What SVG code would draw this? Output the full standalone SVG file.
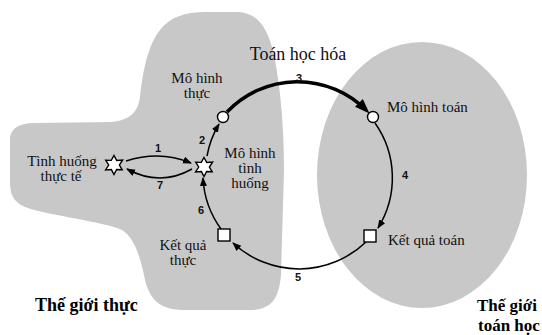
<svg xmlns="http://www.w3.org/2000/svg" width="542" height="335" viewBox="0 0 542 335">
<style>
.region{fill:#c8c8c8;stroke:none}
.lbl{font-family:"Liberation Serif","Times New Roman",serif;font-size:15px;fill:#111}
.ttl{font-family:"Liberation Serif","Times New Roman",serif;font-size:18px;font-weight:bold;fill:#000}
.num{font-family:"Liberation Sans",Arial,sans-serif;font-size:11px;font-weight:bold;fill:#111;text-anchor:middle}
.thin{fill:none;stroke:#000;stroke-width:1.5;marker-end:url(#ah)}
.thick{fill:none;stroke:#000;stroke-width:3.5;marker-end:url(#ahb)}
.nd{fill:#fff;stroke:#000;stroke-width:1.4}
</style>
<defs>
<marker id="ah" markerUnits="userSpaceOnUse" markerWidth="10" markerHeight="8" refX="8" refY="3.5" orient="auto" viewBox="0 0 10 8">
<path d="M0,0 L9,3.5 L0,7 z" fill="#000"/>
</marker>
<marker id="ahb" markerUnits="userSpaceOnUse" markerWidth="16" markerHeight="12" refX="10" refY="5.5" orient="auto" viewBox="0 0 16 12">
<path d="M0,0 L15,5.5 L0,11 z" fill="#000"/>
</marker>
<polygon id="star" points="0,-9.5 2.7,-4.6 8.6,-5 5.4,0 8.2,4.8 2.6,4.5 0,9.5 -2.6,4.6 -8.4,5 -5.3,0 -8.3,-4.8 -2.7,-4.6"/>
</defs>
<g id="regions">
<path id="real-world" class="region" d="M140,97 C143,70 148,45 160,30 C170,17 185,12 205,12 L238,12 C258,13 268,28 274,55 C281,90 284,130 284,170 L281,275 C279,298 272,309 252,310 L185,310 C162,310 152,302 146,284 C141,262 137,240 122,230 C102,221 50,216 25,207 C12,201 10,193 10,180 L10,140 C10,128 20,123 35,123 L112,122 C130,120 138,112 140,97 Z"/>
<ellipse id="math-world" class="region" cx="422" cy="175" rx="105" ry="133"/>
</g>
<g id="connectors">
<path id="c1" class="thin" d="M126,161 Q160,150 191,163"/>
<path id="c7" class="thin" d="M192,169 Q160,187 127,169"/>
<path id="c2" class="thin" d="M207,156 A95,95 0 0,1 219,124"/>
<path id="c3" class="thick" d="M227,112 A97,97 0 0,1 366,110"/>
<path id="c4" class="thin" d="M375,123 A95,95 0 0,1 378,228"/>
<path id="c5" class="thin" d="M366,242 A97,97 0 0,1 233,243"/>
<path id="c6" class="thin" d="M221,229 A95,95 0 0,1 203,178"/>
<text class="num" x="158" y="152">1</text>
<text class="num" x="202" y="144">2</text>
<text class="num" x="299" y="82">3</text>
<text class="num" x="405" y="179">4</text>
<text class="num" x="298" y="281">5</text>
<text class="num" x="201" y="214">6</text>
<text class="num" x="160" y="189">7</text>
</g>
<g id="title-mathematization">
<text class="lbl" style="font-size:18px" x="298" y="60" text-anchor="middle">Toán học hóa</text>
</g>
<g id="node-real-situation">
<use href="#star" class="nd" x="114" y="165"/>
<text class="lbl" x="62" y="166" text-anchor="middle">Tình huống</text>
<text class="lbl" x="61" y="181" text-anchor="middle">thực tế</text>
</g>
<g id="node-situation-model">
<use href="#star" class="nd" x="204" y="167"/>
<text class="lbl" x="250" y="158" text-anchor="middle">Mô hình</text>
<text class="lbl" x="250" y="173" text-anchor="middle">tình</text>
<text class="lbl" x="250" y="188" text-anchor="middle">huống</text>
</g>
<g id="node-real-model">
<circle class="nd" cx="223" cy="117" r="5.5"/>
<text class="lbl" x="197" y="83" text-anchor="middle">Mô hình</text>
<text class="lbl" x="197" y="98" text-anchor="middle">thực</text>
</g>
<g id="node-math-model">
<circle class="nd" cx="373" cy="117" r="5.5"/>
<text class="lbl" x="387" y="112">Mô hình toán</text>
</g>
<g id="node-math-result">
<rect class="nd" x="364" y="230" width="12" height="12"/>
<text class="lbl" x="388" y="245">Kết quả toán</text>
</g>
<g id="node-real-result">
<rect class="nd" x="218" y="229" width="12" height="12"/>
<text class="lbl" x="183" y="250" text-anchor="middle">Kết quả</text>
<text class="lbl" x="183" y="265" text-anchor="middle">thực</text>
</g>
<g id="labels-worlds">
<text class="ttl" x="35" y="311">Thế giới thực</text>
<text class="ttl" style="font-size:17px" x="477" y="311">Thế giới</text>
<text class="ttl" style="font-size:17px" x="478" y="331">toán học</text>
</g>
</svg>
